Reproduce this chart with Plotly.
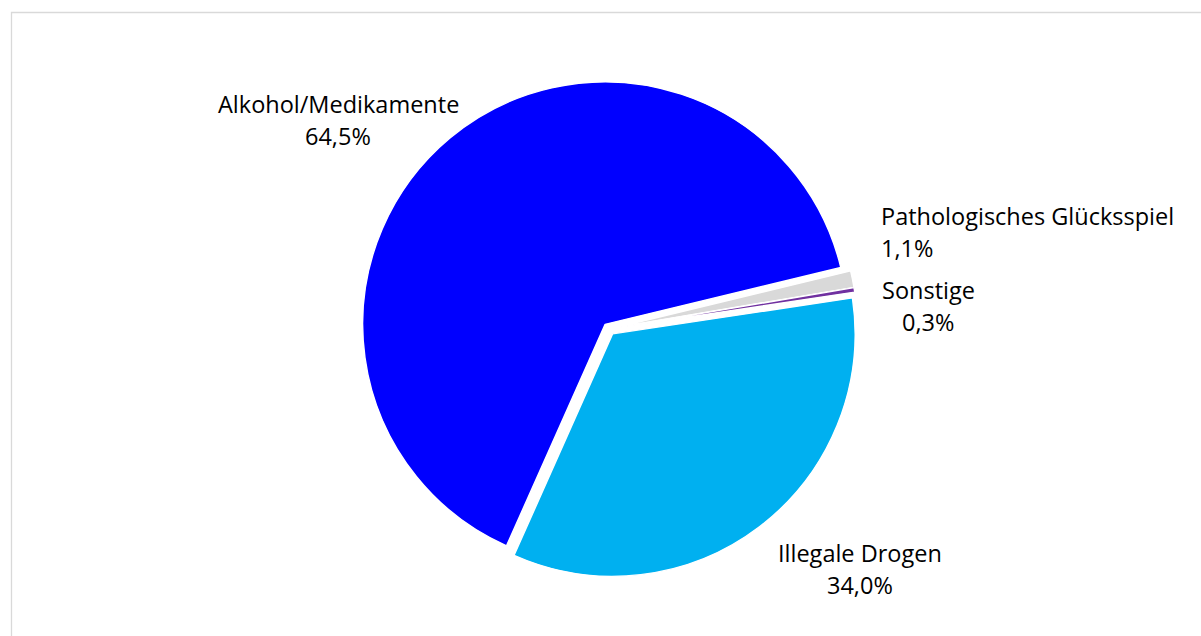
import plotly.graph_objects as go

# Anteile der Hauptdiagnosen (in Prozent)
kategorien = ["Alkohol/Medikamente", "Pathologisches Glücksspiel", "Sonstige", "Illegale Drogen"]
anteile = [64.5, 1.1, 0.3, 34.0]
farben = ["#0000FF", "#D9D9D9", "#7030A0", "#00B0F0"]

W, H = 1201, 636

fig = go.Figure(
    go.Pie(
        labels=kategorien,
        values=anteile,
        sort=False,
        direction="clockwise",
        rotation=204,
        pull=[0.025, 0.025, 0.025, 0.025],
        marker=dict(colors=farben, line=dict(color="white", width=1.4)),
        textinfo="none",
        hoverinfo="label+percent",
        showlegend=False,
        domain=dict(x=[360.5 / W, 857.5 / W], y=[(H - 577.5) / H, (H - 80.5) / H]),
    )
)

# Beschriftungen: (x, y der Namenszeile, y der Prozentzeile, Ausrichtung) in Pixeln
label_pos = [
    (338, 104, 136, "center"),
    (879, 216, 248, "left"),
    (928, 290, 322, "center"),
    (860, 553, 585, "center"),
]

font = dict(family="'Open Sans', 'Noto Sans', sans-serif", size=23.5, color="#000000")
for name, wert, (px, py1, py2, align) in zip(kategorien, anteile, label_pos):
    xanchor = "left" if align == "left" else "center"
    pct = f"{wert:.1f}%".replace(".", ",")
    for txt, py in ((name, py1), (pct, py2)):
        fig.add_annotation(
            x=px / W, y=1 - py / H, xref="paper", yref="paper",
            text=txt, showarrow=False, xanchor=xanchor, yanchor="middle",
            font=font,
        )

# Rahmen des Diagrammbereichs
fig.add_shape(
    type="rect", xref="paper", yref="paper",
    x0=11.5 / W, x1=1.05, y0=-0.05, y1=1 - 12.5 / H,
    line=dict(color="#D9D9D9", width=1.3), fillcolor="rgba(0,0,0,0)",
)

fig.update_layout(
    width=W, height=H,
    margin=dict(l=0, r=0, t=0, b=0),
    paper_bgcolor="white", plot_bgcolor="white",
)

fig.write_html("out.html")
